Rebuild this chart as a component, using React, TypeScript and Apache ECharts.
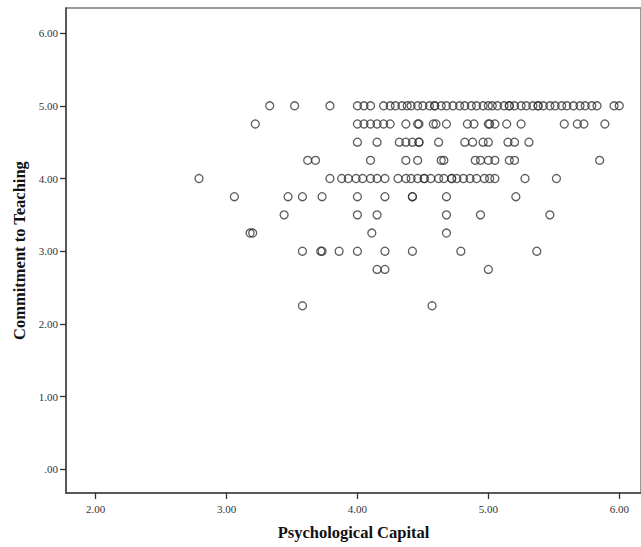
import React, { useEffect, useRef } from "react";
import * as echarts from "echarts";

// Psychological Capital (x) values, grouped by Commitment to Teaching (y) level
const commitmentLevels = [5.0, 4.75, 4.5, 4.25, 4.0, 3.75, 3.5, 3.25, 3.0, 2.75, 2.25];

const capitalAt500 = [3.33, 3.52, 3.79, 4.0, 4.05, 4.1, 4.2, 4.25, 4.29, 4.34, 4.38, 4.41, 4.46, 4.5, 4.55, 4.59, 4.59, 4.64, 4.68, 4.73, 4.78, 4.82, 4.87, 4.91, 4.96, 5.0, 5.03, 5.07, 5.12, 5.16, 5.16, 5.2, 5.25, 5.29, 5.34, 5.38, 5.38, 5.42, 5.47, 5.51, 5.56, 5.6, 5.65, 5.7, 5.74, 5.79, 5.83, 5.96, 6.0];
const capitalAt475 = [3.22, 4.0, 4.05, 4.1, 4.15, 4.2, 4.25, 4.37, 4.46, 4.47, 4.58, 4.6, 4.68, 4.84, 4.89, 5.0, 5.01, 5.05, 5.14, 5.25, 5.58, 5.68, 5.73, 5.89];
const capitalAt450 = [4.0, 4.15, 4.32, 4.37, 4.42, 4.47, 4.47, 4.62, 4.82, 4.88, 4.96, 5.0, 5.15, 5.2, 5.31];
const capitalAt425 = [3.62, 3.68, 4.1, 4.37, 4.46, 4.64, 4.66, 4.9, 4.94, 5.0, 5.05, 5.16, 5.2, 5.85];
const capitalAt400 = [2.79, 3.79, 3.88, 3.93, 3.99, 4.04, 4.1, 4.15, 4.21, 4.31, 4.37, 4.41, 4.46, 4.51, 4.51, 4.56, 4.62, 4.66, 4.72, 4.72, 4.76, 4.81, 4.86, 4.91, 4.97, 5.01, 5.05, 5.28, 5.52];
const capitalAt375 = [3.06, 3.47, 3.58, 3.73, 4.0, 4.21, 4.42, 4.42, 4.68, 5.21];
const capitalAt350 = [3.44, 4.0, 4.15, 4.68, 4.94, 5.47];
const capitalAt325 = [3.18, 3.2, 4.11, 4.68];
const capitalAt300 = [3.58, 3.72, 3.73, 3.86, 4.0, 4.21, 4.42, 4.79, 5.37];
const capitalAt275 = [4.15, 4.21, 5.0];
const capitalAt225 = [3.58, 4.57];

const capitalRows = [
  capitalAt500, capitalAt475, capitalAt450, capitalAt425, capitalAt400,
  capitalAt375, capitalAt350, capitalAt325, capitalAt300, capitalAt275, capitalAt225,
];

const xTicks = [2, 3, 4, 5, 6];
const yTicks = [0, 1, 2, 3, 4, 5, 6];

const fmt = (v: number) => (v === 0 ? ".00" : v.toFixed(2));

export default function App() {
  const ref = useRef<HTMLDivElement>(null);
  useEffect(() => {
    if (!ref.current) return;
    const chart = echarts.init(ref.current, undefined, { renderer: "svg" });
    const points: number[][] = [];
    capitalRows.forEach((row, i) => {
      row.forEach((x) => points.push([x, commitmentLevels[i]]));
    });
    const serif = "'Liberation Serif', 'Times New Roman', serif";
    chart.setOption({
      animation: false,
      backgroundColor: "#ffffff",
      grid: {
        left: 66,
        top: 8,
        right: -3,
        bottom: 54,
        show: true,
        borderColor: "#777",
        borderWidth: 1.5,
        backgroundColor: "transparent",
      },
      xAxis: {
        type: "value",
        min: 1.774,
        max: 6.166,
        name: "Psychological Capital",
        nameLocation: "middle",
        nameGap: 31,
        nameTextStyle: { fontFamily: serif, fontWeight: "bold", fontSize: 16.5, color: "#111" },
        axisLine: { show: true, onZero: false, lineStyle: { color: "#444", width: 1.5 } },
        axisTick: { show: true, customValues: xTicks, length: 6, lineStyle: { color: "#333", width: 1.3 } },
        axisLabel: { customValues: xTicks, formatter: fmt, margin: 10, fontFamily: serif, fontSize: 11, color: "#333" },
        splitLine: { show: false },
      },
      yAxis: {
        type: "value",
        min: -0.325,
        max: 6.345,
        name: "Commitment to Teaching",
        nameLocation: "middle",
        nameGap: 34,
        nameTextStyle: { fontFamily: serif, fontWeight: "bold", fontSize: 16.5, color: "#111" },
        axisLine: { show: true, onZero: false, lineStyle: { color: "#444", width: 1.5 } },
        axisTick: { show: true, customValues: yTicks, length: 6, lineStyle: { color: "#333", width: 1.3 } },
        axisLabel: { customValues: yTicks, formatter: fmt, margin: 8, fontFamily: serif, fontSize: 11, color: "#333" },
        splitLine: { show: false },
      },
      series: [
        {
          type: "scatter",
          data: points,
          symbol: "circle",
          symbolSize: 8,
          itemStyle: { color: "rgba(0,0,0,0)", borderColor: "#333", borderWidth: 1.3 },
          emphasis: { disabled: true },
        },
      ],
    });
    return () => chart.dispose();
  }, []);
  return (
    <div
      ref={ref}
      style={{ position: "fixed", left: 0, top: 0, width: 641, height: 547, background: "#fff" }}
    />
  );
}
